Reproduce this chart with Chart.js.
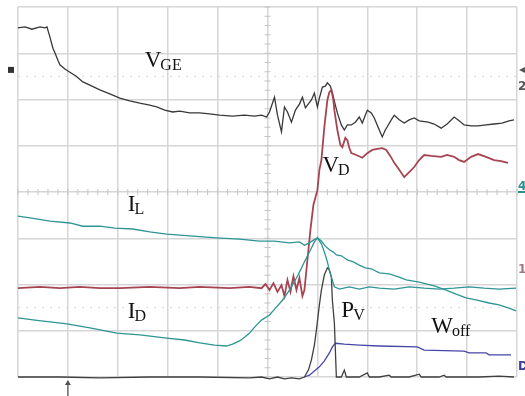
<!DOCTYPE html>
<html>
<head>
<meta charset="utf-8">
<script src="https://cdn.jsdelivr.net/npm/chart.js@4.4.0/dist/chart.umd.min.js"></script>
<style>
  html, body { margin: 0; padding: 0; background: #fff; }
  canvas { display: block; }
</style>
</head>
<body>
<canvas id="scope" width="525" height="396"></canvas>
<script>
// time in ns (100 ns/div), level in divisions (centre = 0)
const vgeT = [0,14,28,44,54,58,64,70,74,80,84,94,104,116,130,144,164,184,204,224,244,264,278,294,310,324,344,364,384,404,430,454,474,488,498,504,514,520,528,534,540,548,556,564,570,576,580,588,594,600,604,610,616,620,626,630,636,640,648,654,660,668,676,684,690,696,700,708,714,724,730,736,740,748,754,764,774,784,794,804,822,834,848,860,874,884,894,908,922,938,954,970,984,994];
const vgeV = [3.55,3.57,3.52,3.57,3.55,3.57,3.35,3.11,3.01,2.85,2.75,2.66,2.59,2.51,2.38,2.31,2.21,2.12,2.03,1.97,1.92,1.88,1.84,1.77,1.73,1.75,1.71,1.71,1.69,1.66,1.64,1.66,1.64,1.66,1.62,1.73,2.05,1.66,1.30,1.84,1.73,1.51,1.77,1.90,2.05,1.82,1.88,1.99,2.14,1.84,2.03,2.27,2.29,2.36,2.29,2.14,1.88,1.71,1.45,1.34,1.45,1.45,1.51,1.62,1.49,1.66,1.77,1.71,1.60,1.34,1.19,1.34,1.41,1.56,1.66,1.56,1.49,1.56,1.60,1.54,1.51,1.47,1.38,1.47,1.62,1.54,1.45,1.43,1.43,1.45,1.47,1.49,1.54,1.56];

const vdT = [0,44,84,124,164,204,264,324,364,424,464,488,496,504,512,520,528,534,540,546,552,558,564,570,574,580,586,592,600,604,608,614,620,624,628,632,634,640,646,650,656,660,664,668,678,690,700,710,720,730,738,746,754,764,774,784,794,804,814,828,848,860,874,884,894,908,922,938,954,968,982];
const vdV = [-2.08,-2.05,-2.08,-2.05,-2.08,-2.08,-2.05,-2.08,-2.05,-2.08,-2.05,-2.08,-1.99,-2.12,-1.97,-2.16,-2.01,-2.25,-1.90,-2.16,-1.82,-2.12,-1.86,-2.25,-2.12,-1.47,-0.82,-0.28,0.04,0.48,0.69,1.41,1.99,2.16,2.21,1.99,1.77,1.34,1.02,0.97,1.17,1.12,0.95,0.84,0.80,0.74,0.84,0.91,0.93,0.95,0.91,0.78,0.63,0.48,0.32,0.43,0.54,0.69,0.80,0.78,0.76,0.80,0.76,0.69,0.65,0.76,0.82,0.76,0.69,0.67,0.63];

const ilT = [0,24,64,104,130,164,194,230,264,298,344,398,444,484,514,544,564,574,584,592,600,608,616,624,632,638,648,660,672,684,696,708,724,744,764,778,804,834,858,878,898,920,944,964,984,998];
const ilV = [-0.52,-0.56,-0.63,-0.67,-0.74,-0.74,-0.78,-0.80,-0.86,-0.91,-0.95,-0.99,-1.02,-1.06,-1.06,-1.10,-1.08,-1.15,-1.10,-1.04,-0.99,-1.06,-1.17,-1.25,-1.30,-1.36,-1.38,-1.47,-1.51,-1.58,-1.64,-1.66,-1.75,-1.77,-1.84,-1.90,-1.95,-2.03,-2.12,-2.21,-2.29,-2.34,-2.40,-2.44,-2.51,-2.57];

const idT = [0,34,64,98,144,198,244,298,334,364,394,418,430,444,454,464,476,488,504,516,530,544,558,566,574,582,588,594,600,608,614,620,624,628,634,644,664,684,704,724,754,784,814,844,874,904,934,964,998];
const idV = [-2.72,-2.77,-2.81,-2.85,-2.94,-3.05,-3.09,-3.16,-3.20,-3.26,-3.31,-3.33,-3.29,-3.22,-3.14,-3.05,-2.90,-2.77,-2.66,-2.51,-2.34,-2.12,-1.86,-1.69,-1.51,-1.34,-1.21,-1.08,-0.99,-1.12,-1.30,-1.51,-1.69,-1.84,-2.05,-2.10,-2.05,-2.10,-2.05,-2.08,-2.10,-2.05,-2.08,-2.10,-2.08,-2.05,-2.08,-2.10,-2.08];

const pvT = [0,84,164,264,364,464,488,504,520,534,548,564,574,582,588,594,598,604,608,614,620,624,628,630,634,638,648,654,658,684,700,704,724,744,748,784,804,808,844,854,858,924,964,994];
const pvV = [-4.00,-4.00,-4.02,-4.00,-4.00,-4.02,-4.00,-4.04,-4.00,-4.04,-4.02,-4.04,-4.00,-3.85,-3.63,-3.31,-2.98,-2.44,-2.12,-1.79,-1.64,-1.69,-1.84,-2.34,-2.83,-4.00,-4.00,-3.85,-4.00,-4.00,-3.91,-4.00,-4.00,-3.96,-4.00,-4.00,-3.94,-4.00,-4.00,-3.96,-4.00,-4.00,-3.98,-4.00];

const woffT = [574,584,594,604,614,624,630,636,654,684,724,800,814,894,904,938,944,988];
const woffV = [-4.00,-3.96,-3.87,-3.78,-3.65,-3.48,-3.35,-3.27,-3.29,-3.31,-3.33,-3.35,-3.42,-3.44,-3.48,-3.48,-3.52,-3.52];

// trace labels: main letter, subscript, anchor (ns, div)
const labelMain = ["V", "V", "I", "I", "P", "W"];
const labelSub = ["GE", "D", "L", "D", "V", "off"];
const labelT = [254, 610, 220, 220, 648, 828];
const labelV = [2.70, 0.43, -0.41, -2.72, -2.70, -3.05];

const pts = (t, v) => t.map((x, i) => ({ x: x, y: v[i] }));

function trace(data, color, width) {
  return { data: data, borderColor: color, borderWidth: width || 1.3, pointRadius: 0, tension: 0, clip: false };
}

const scopeDecor = {
  id: "scopeDecor",
  beforeDatasetsDraw(chart) {
    const { ctx, scales: { x, y } } = chart;
    const y0 = y.getPixelForValue(0);
    const x0 = x.getPixelForValue(500);
    ctx.save();
    ctx.strokeStyle = "#c4c4c4";
    ctx.lineWidth = 1;
    ctx.beginPath();
    for (let i = 0; i <= 50; i++) {
      const px = x.getPixelForValue(i * 20);
      ctx.moveTo(px, y0 - 3); ctx.lineTo(px, y0 + 3);
    }
    for (let i = 0; i <= 40; i++) {
      const py = y.getPixelForValue(-4 + i * 0.2);
      ctx.moveTo(x0 - 3, py); ctx.lineTo(x0 + 3, py);
    }
    ctx.stroke();
    ctx.setLineDash([2, 6]);
    ctx.strokeStyle = "#d8d8d8";
    ctx.beginPath();
    [2.5, -2.5].forEach(v => {
      const py = y.getPixelForValue(v);
      ctx.moveTo(x.getPixelForValue(0), py); ctx.lineTo(x.getPixelForValue(1000), py);
    });
    ctx.stroke();
    ctx.restore();
  },
  afterDatasetsDraw(chart) {
    const { ctx, scales: { x, y } } = chart;
    ctx.save();
    ctx.fillStyle = "#111";
    ctx.textBaseline = "alphabetic";
    labelMain.forEach((m, i) => {
      const px = x.getPixelForValue(labelT[i]);
      const py = y.getPixelForValue(labelV[i]);
      ctx.font = '23px "Liberation Serif", "DejaVu Serif", serif';
      ctx.fillText(m, px, py);
      const w = ctx.measureText(m).width;
      ctx.font = '16px "Liberation Serif", "DejaVu Serif", serif';
      ctx.fillText(labelSub[i], px + w - 1, py + 3);
    });

    // channel markers
    const left = x.getPixelForValue(0), right = x.getPixelForValue(1000);
    const mk = y.getPixelForValue(2.64);
    const y0 = y.getPixelForValue(0);
    ctx.fillStyle = "#333";
    ctx.fillRect(left - 10, mk - 3, 6, 6);
    ctx.fillStyle = "#555";
    ctx.beginPath();
    ctx.moveTo(right + 8, mk - 3); ctx.lineTo(right + 2, mk); ctx.lineTo(right + 8, mk + 3); ctx.closePath();
    ctx.fill();
    ctx.font = 'bold 12px "DejaVu Sans", sans-serif';
    ctx.fillText("2", right + 1, y.getPixelForValue(2.2));
    ctx.fillStyle = "#2a8f8f";
    ctx.fillText("4", right + 1, y.getPixelForValue(0.05));
    ctx.fillRect(right + 1, y0 - 1, 8, 2);
    ctx.fillStyle = "#9a7a80";
    ctx.fillText("1", right + 1, y.getPixelForValue(-1.75));
    ctx.fillStyle = "#3c3c9a";
    ctx.fillText("D", right + 1, y.getPixelForValue(-3.85));

    // trigger marker below the graticule
    const tx = x.getPixelForValue(100);
    const bottom = y.getPixelForValue(-4);
    ctx.strokeStyle = "#666";
    ctx.lineWidth = 1.5;
    ctx.beginPath();
    ctx.moveTo(tx, bottom + 4); ctx.lineTo(tx, bottom + 19);
    ctx.stroke();
    ctx.fillStyle = "#555";
    ctx.beginPath();
    ctx.moveTo(tx - 3, bottom + 8); ctx.lineTo(tx, bottom + 3); ctx.lineTo(tx + 3, bottom + 8); ctx.closePath();
    ctx.fill();
    ctx.restore();
  }
};

new Chart(document.getElementById("scope"), {
  type: "line",
  data: {
    datasets: [
      trace(pts(ilT, ilV), "#2f9494"),
      trace(pts(idT, idV), "#2f9494"),
      trace(pts(vdT, vdV), "#a64452", 1.8),
      trace(pts(vgeT, vgeV), "#383838"),
      trace(pts(pvT, pvV), "#404040"),
      trace(pts(woffT, woffV), "#4646a6"),
    ],
  },
  options: {
    responsive: false,
    animation: false,
    layout: { padding: { left: 18, right: 8, top: 7, bottom: 19 } },
    plugins: { legend: { display: false }, tooltip: { enabled: false } },
    scales: {
      x: {
        type: "linear", min: 0, max: 1000,
        ticks: { display: false, stepSize: 100 },
        grid: { color: "#d6d6d6", lineWidth: 1.5, drawTicks: false },
        border: { display: false },
      },
      y: {
        type: "linear", min: -4, max: 4,
        ticks: { display: false, stepSize: 1 },
        grid: { color: "#d6d6d6", lineWidth: 1.5, drawTicks: false },
        border: { display: false },
      },
    },
  },
  plugins: [scopeDecor],
});
</script>
</body>
</html>
